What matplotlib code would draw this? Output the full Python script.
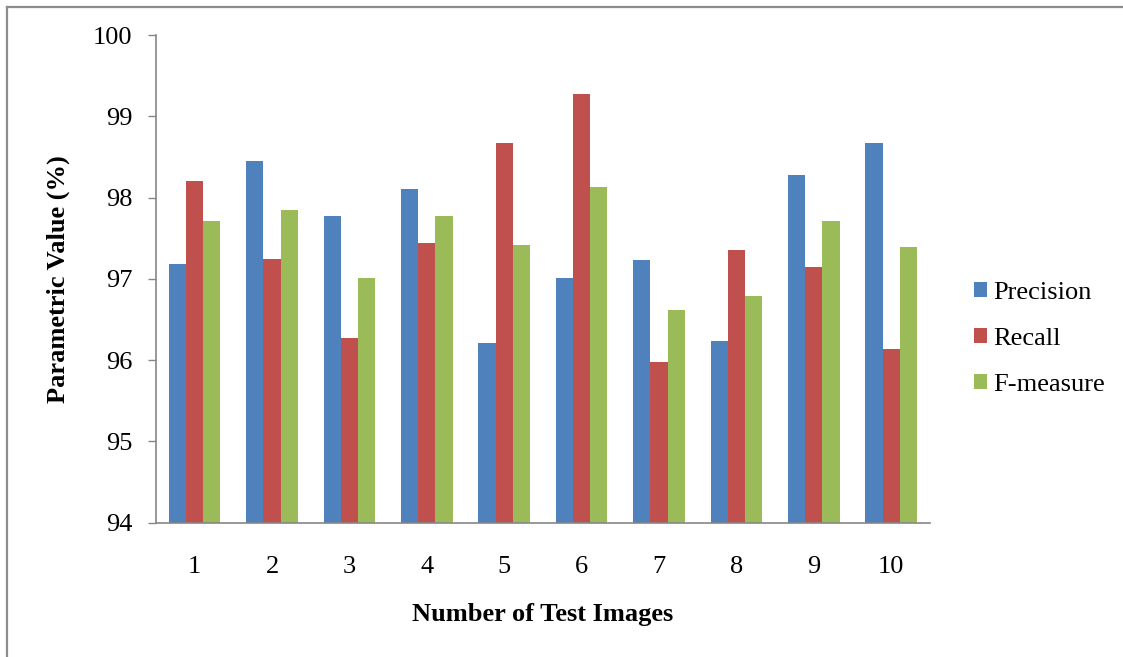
import numpy as np
import matplotlib
matplotlib.use("Agg")
import matplotlib.pyplot as plt
from matplotlib.lines import Line2D

# data
images = ["1", "2", "3", "4", "5", "6", "7", "8", "9", "10"]
precision = [97.18, 98.45, 97.77, 98.10, 96.21, 97.01, 97.23, 96.23, 98.28, 98.67]
recall = [98.21, 97.25, 96.27, 97.44, 98.67, 99.27, 95.98, 97.36, 97.15, 96.14]
f_measure = [97.71, 97.85, 97.01, 97.77, 97.42, 98.13, 96.62, 96.79, 97.71, 97.39]

series = ["Precision", "Recall", "F-measure"]
colors = ["#4F81BD", "#C0504D", "#9BBB59"]

plt.rcParams["font.family"] = ["Liberation Serif", "DejaVu Serif"]

fig = plt.figure(figsize=(11.23, 6.57), dpi=100)
ax = fig.add_axes([0.1389, 0.2044, 0.6892, 0.7423])

x = np.arange(len(images))
w = 1 / 4.5
for i, (vals, name, c) in enumerate(zip([precision, recall, f_measure], series, colors)):
    ax.bar(x + (i - 1) * w, np.array(vals) - 94, width=w, bottom=94,
           color=c, label=name, zorder=2)

ax.set_xlim(-0.5, len(images) - 0.5)
ax.set_ylim(94, 100)
ax.set_yticks(range(94, 101))
ax.set_xticks(x)
ax.set_xticklabels(images)

ax.tick_params(axis="y", length=6, width=1, color="#868686", pad=11, labelsize=19)
ax.tick_params(axis="x", length=0, pad=24, labelsize=19)
for s in ["top", "right"]:
    ax.spines[s].set_visible(False)
for s in ["left", "bottom"]:
    ax.spines[s].set_color("#868686")
    ax.spines[s].set_linewidth(1.2)

ax.set_xlabel("Number of Test Images", fontsize=19, fontweight="bold")
ax.xaxis.set_label_coords(0.5, ((657 - 615) / 657 - 0.2044) / 0.7423)
ax.set_ylabel("Parametric Value (%)", fontsize=19, fontweight="bold")
ax.yaxis.set_label_coords((58 - 156) / 1123 / 0.6892, 0.5)
ax.xaxis.label.set_va("center")
ax.yaxis.label.set_va("center")

ax.legend(loc="center left", bbox_to_anchor=(974 / 1123, 1 - 339 / 657),
          bbox_transform=fig.transFigure, frameon=False, fontsize=19,
          handlelength=0.48, handleheight=0.5, handletextpad=0.25,
          labelspacing=0.91, borderpad=0, borderaxespad=0)

# outer chart border (top and left only visible)
fig.add_artist(Line2D([7 / 1123, 1], [1 - 7 / 657, 1 - 7 / 657],
                      transform=fig.transFigure, color="#8c8c8c", lw=1.6))
fig.add_artist(Line2D([7 / 1123, 7 / 1123], [0, 1 - 7 / 657],
                      transform=fig.transFigure, color="#8c8c8c", lw=1.6))

fig.savefig("out.png", dpi=100)
